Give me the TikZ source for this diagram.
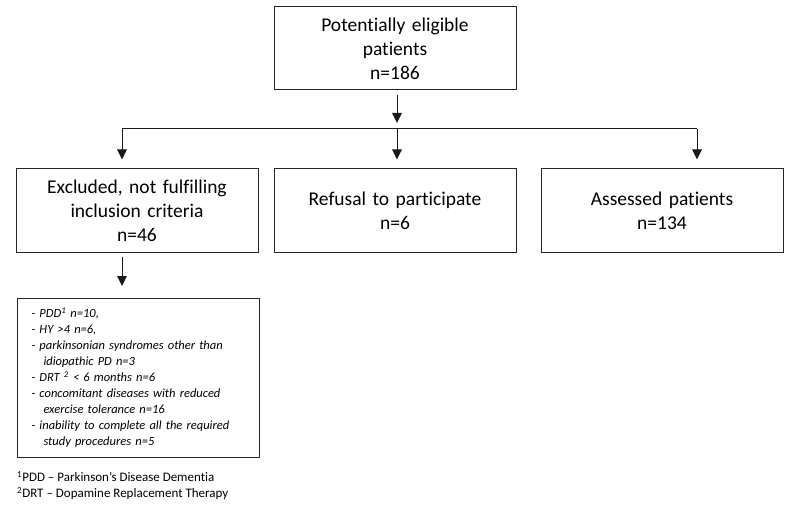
\documentclass[tikz,border=0pt]{standalone}
\usepackage{fontspec}
\setmainfont{Carlito}[Ligatures=NoCommon]
\usetikzlibrary{arrows.meta,positioning}

\begin{document}
\begin{tikzpicture}[x=1pt,y=-1pt]
\tikzset{
    %Define standard arrow tip
    >={Triangle[length=10pt,width=9.5pt]},
    %Define style for boxes
    kasse/.style={
           rectangle,
           draw=black!85, line width=1pt,
           minimum width=242pt,
           minimum height=83pt,
           text width=230pt,
           align=center,
           font=\fontsize{19.5}{24}\selectfont},
    % Define arrow style
    pil/.style={
           ->,
           line width=1pt,
           draw=black!90}
}
\useasboundingbox (0,0) rectangle (794,505);
 %nodes
 \node[kasse] (eligible) at (395,48.5) {Potentially eligible\\patients\\n=186};
 \node[kasse] (refusal) at (395,210.5) {Refusal to participate\\n=6};
 \node[kasse, left=15pt of refusal] (excluded) {Excluded, not fulfilling\\inclusion criteria\\n=46};
 \node[kasse, right=24pt of refusal] (assessed) {Assessed patients\\n=134};
 \node[kasse, anchor=north west, minimum height=159pt, align=left,
       inner xsep=14pt, text width=214pt,
       font=\fontsize{12.5}{16}\selectfont\itshape] (reasons) at (17,298)
   {- PDD\textsuperscript{1} n=10,\\
    - HY >4 n=6,\\
    - parkinsonian syndromes other than\\
    \hspace*{12pt}idiopathic PD n=3\\
    - DRT \textsuperscript{2} < 6 months n=6\\
    - concomitant diseases with reduced\\
    \hspace*{12pt}exercise tolerance n=16\\
    - inability to complete all the required\\
    \hspace*{12pt}study procedures n=5};
 % footnotes under the list
 \node[anchor=north west, inner sep=0pt, align=left,
       font=\fontsize{13}{16}\selectfont] (notes) at (17,471)
   {\textsuperscript{1}PDD -- Parkinson's Disease Dementia\\
    \textsuperscript{2}DRT -- Dopamine Replacement Therapy};
 % branching point below the top box
 \coordinate (split) at (397,129);
 \coordinate (splitl) at (122,129);
 \coordinate (splitr) at (697,129);
 \draw[pil] ([yshift=-5pt]eligible.south -| split) -- ([yshift=6pt]split);
 \draw[line width=1pt, draw=black!90] (splitl) -- (splitr);
 \draw[pil] (splitl) -- ([yshift=9pt]splitl |- excluded.north);
 \draw[pil] (split) -- ([yshift=9pt]split |- refusal.north);
 \draw[pil] (splitr) -- ([yshift=9pt]splitr |- assessed.north);
 \draw[pil] ([yshift=-4pt]excluded.south -| splitl) -- ([yshift=12pt]reasons.north -| splitl);
\end{tikzpicture}
\end{document}
